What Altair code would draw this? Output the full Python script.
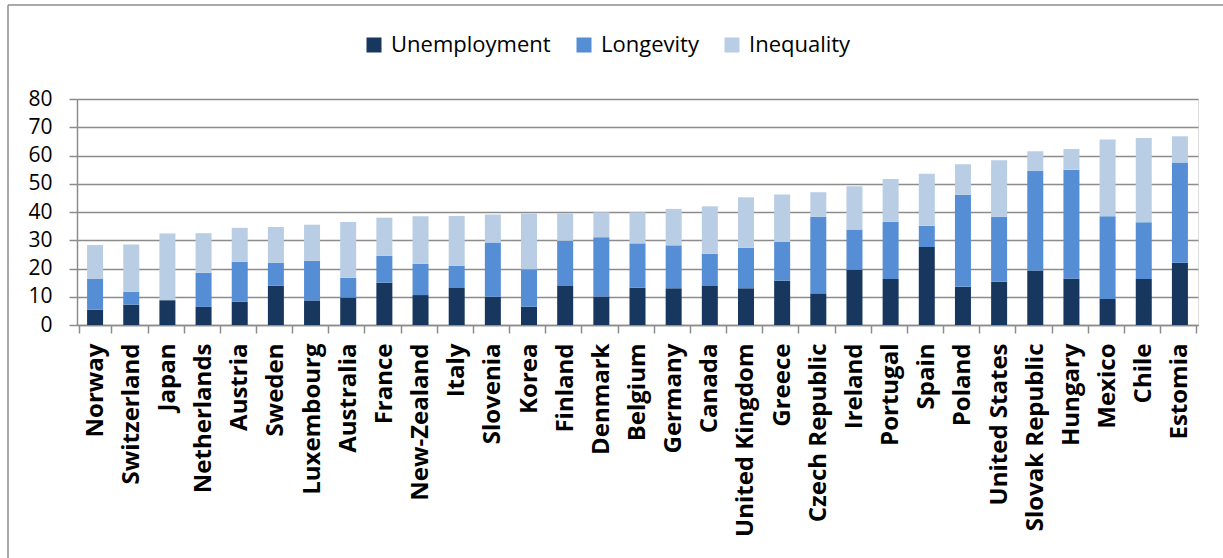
import altair as alt
import pandas as pd

countries = ["Norway", "Switzerland", "Japan", "Netherlands", "Austria", "Sweden",
             "Luxembourg", "Australia", "France", "New-Zealand", "Italy", "Slovenia",
             "Korea", "Finland", "Denmark", "Belgium", "Germany", "Canada",
             "United Kingdom", "Greece", "Czech Republic", "Ireland", "Portugal",
             "Spain", "Poland", "United States", "Slovak Republic", "Hungary",
             "Mexico", "Chile", "Estomia"]

unemployment = [5.4, 7.2, 8.8, 6.4, 8.2, 13.9, 8.7, 9.7, 15.0, 10.6, 13.1, 10.0,
                6.5, 13.8, 10.1, 13.2, 13.0, 13.8, 13.0, 15.7, 11.2, 19.6, 16.3,
                27.6, 13.5, 15.3, 19.3, 16.4, 9.2, 16.3, 22.0]
longevity = [10.9, 4.6, 0.0, 12.1, 14.2, 8.1, 14.0, 7.0, 9.5, 11.1, 7.9, 19.2,
             13.2, 16.0, 21.0, 15.7, 15.2, 11.4, 14.3, 13.7, 27.1, 14.2, 20.2,
             7.5, 32.6, 23.0, 35.2, 38.6, 29.3, 20.1, 35.5]
inequality = [12.0, 16.7, 23.6, 14.0, 12.0, 12.7, 12.8, 19.8, 13.5, 16.8, 17.6, 9.9,
              19.8, 9.7, 8.8, 11.0, 12.9, 16.8, 17.9, 16.8, 8.7, 15.3, 15.2,
              18.4, 10.8, 20.0, 7.0, 7.3, 27.2, 29.8, 9.3]

series = ["Unemployment", "Longevity", "Inequality"]
colors = ["#17375E", "#558ED5", "#B9CDE5"]

rows = []
for i, c in enumerate(countries):
    for k, (name, vals) in enumerate(zip(series, [unemployment, longevity, inequality])):
        rows.append({"country": c, "series": name, "value": vals[i], "order": k})
df = pd.DataFrame(rows)

W, H = 1121, 226
FONT = "Open Sans"
GRAY = "#8c8c8c"

bars = alt.Chart(df).mark_bar(size=16).encode(
    x=alt.X("country:N", sort=countries, title=None,
            axis=alt.Axis(labelAngle=-90, labelAlign="right", labelBaseline="middle",
                          labelFontSize=24, labelFontWeight="bold", labelFont=FONT,
                          labelColor="black", labelPadding=10, tickBand="extent",
                          tickSize=8, tickColor=GRAY, domainColor=GRAY,
                          domainWidth=1.5, tickWidth=1.5, grid=False, labelLimit=400)),
    y=alt.Y("value:Q", stack="zero", title=None,
            scale=alt.Scale(domain=[0, 80], nice=False),
            axis=alt.Axis(values=list(range(0, 81, 10)), labelFontSize=21, labelFont=FONT,
                          labelColor="black", labelPadding=17, tickSize=8,
                          tickColor=GRAY, tickWidth=1.5, domainColor=GRAY,
                          domainWidth=1.5, gridColor=GRAY, gridWidth=1.5)),
    color=alt.Color("series:N", sort=series,
                    scale=alt.Scale(domain=series, range=colors),
                    legend=alt.Legend(title=None, orient="none", direction="horizontal",
                                      legendX=286, legendY=-65, symbolType="square",
                                      symbolSize=225, symbolStrokeWidth=0,
                                      labelFontSize=22, labelFont=FONT, labelColor="black",
                                      columnPadding=22, labelOffset=6)),
    order=alt.Order("order:Q"),
)

# outer frame along the top and left edges
frame_data = alt.Data(values=[{}])
frame_left = alt.Chart(frame_data).mark_rule(color=GRAY, strokeWidth=1.5).encode(
    x=alt.value(-69), y=alt.value(-94), y2=alt.value(H + 240))
frame_top = alt.Chart(frame_data).mark_rule(color=GRAY, strokeWidth=1.5).encode(
    x=alt.value(-69), x2=alt.value(W + 30), y=alt.value(-94))

chart = alt.layer(bars, frame_left, frame_top).properties(
    width=W, height=H,
    autosize=alt.AutoSizeParams(type="none"),
    padding={"left": 77, "top": 99, "right": 25, "bottom": 233},
).configure_view(stroke=None).configure(background="white")

chart.save("out.html", embed_options={"renderer": "svg", "actions": False})
